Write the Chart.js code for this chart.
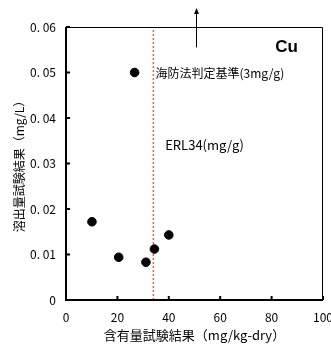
<!DOCTYPE html>
<html>
<head>
<meta charset="utf-8">
<script src="https://cdn.jsdelivr.net/npm/chart.js@4"></script>
<style>
  html, body { margin: 0; padding: 0; background: #fff; }
  #wrap { width: 331px; height: 344px; }
</style>
</head>
<body>
<div id="wrap"><canvas id="chart" width="331" height="344"></canvas></div>
<script>
// 含有量 (mg/kg-dry) と 溶出量 (mg/L) の測定値
const contentValues = [26.7, 10.1, 40.0, 20.5, 31.1, 34.4];
const leachValues = [0.050, 0.0172, 0.0143, 0.0094, 0.0083, 0.0112];

// 基準線と注記
const erlValue = 34;
const arrowX = 50.5;
const arrowFrom = 0.0555;
const arrowTo = 0.0642;

// 目盛ラベル
const xTickLabels = ['0', '20', '40', '60', '80', '100'];
const yTickLabels = ['0', '0. 01', '0. 02', '0. 03', '0. 04', '0. 05', '0. 06'];

const jpFont = '"Noto Sans CJK JP", sans-serif';

const points = contentValues.map((x, i) => ({ x, y: leachValues[i] }));

// 枠線・内向き目盛・矢印・文字の描画
const decor = {
  id: 'decor',
  afterDatasetsDraw(chart) {
    const { ctx, chartArea: a, scales: { x, y } } = chart;
    ctx.save();
    // 枠
    ctx.strokeStyle = '#000';
    ctx.lineWidth = 1;
    ctx.beginPath();
    ctx.moveTo(a.left, a.top + 0.5);
    ctx.lineTo(a.right - 0.5, a.top + 0.5);
    ctx.lineTo(a.right - 0.5, a.bottom);
    ctx.stroke();
    ctx.lineWidth = 2;
    ctx.beginPath();
    ctx.moveTo(a.left, a.top);
    ctx.lineTo(a.left, a.bottom);
    ctx.lineTo(a.right, a.bottom);
    ctx.stroke();
    // 内向き目盛
    yTickLabels.forEach((_, i) => {
      const py = y.getPixelForValue(i * 0.01);
      ctx.beginPath();
      ctx.moveTo(a.left, py);
      ctx.lineTo(a.left + 4, py);
      ctx.stroke();
    });
    xTickLabels.forEach((t) => {
      const px = x.getPixelForValue(Number(t));
      ctx.beginPath();
      ctx.moveTo(px, a.bottom);
      ctx.lineTo(px, a.bottom - 4);
      ctx.stroke();
    });
    // 矢印
    const ax = Math.round(x.getPixelForValue(arrowX)) + 0.5;
    const y1 = y.getPixelForValue(arrowFrom);
    const y2 = y.getPixelForValue(arrowTo);
    ctx.lineWidth = 1;
    ctx.beginPath();
    ctx.moveTo(ax, y1);
    ctx.lineTo(ax, y2 + 3);
    ctx.stroke();
    ctx.fillStyle = '#000';
    ctx.beginPath();
    ctx.moveTo(ax, y2);
    ctx.lineTo(ax - 2.5, y2 + 6);
    ctx.lineTo(ax + 2.5, y2 + 6);
    ctx.closePath();
    ctx.fill();
    // 注記
    ctx.fillStyle = '#000';
    ctx.textBaseline = 'middle';
    ctx.textAlign = 'left';
    ctx.font = '12px ' + jpFont;
    ctx.fillText('海防法判定基準(3mg/g)', x.getPixelForValue(34.8), y.getPixelForValue(0.0499));
    ctx.font = '13px ' + jpFont;
    ctx.fillText('ERL34(mg/g)', x.getPixelForValue(38.6), y.getPixelForValue(0.0340));
    ctx.font = 'bold 17px "Liberation Sans", Arial, sans-serif';
    ctx.textAlign = 'right';
    ctx.fillText('Cu', a.right - 25, a.top + 20);
    ctx.restore();
  }
};

new Chart(document.getElementById('chart').getContext('2d'), {
  type: 'scatter',
  data: {
    datasets: [
      {
        label: 'Cu',
        data: points,
        backgroundColor: '#000',
        borderColor: '#000',
        pointRadius: 4.3,
        order: 1
      },
      {
        label: 'ERL',
        type: 'line',
        data: [{ x: erlValue, y: 0 }, { x: erlValue, y: 0.06 }],
        borderColor: '#f0604a',
        borderWidth: 1.5,
        borderDash: [2, 2],
        pointRadius: 0,
        order: 2
      }
    ]
  },
  options: {
    responsive: false,
    animation: false,
    events: [],
    layout: { padding: { top: 27, right: 8, left: 0, bottom: 0 } },
    plugins: { legend: { display: false }, tooltip: { enabled: false } },
    scales: {
      x: {
        type: 'linear',
        min: 0,
        max: 100,
        ticks: {
          stepSize: 20,
          color: '#000',
          font: { family: jpFont, size: 12 },
          padding: 10,
          maxRotation: 0,
          callback: (v) => xTickLabels[v / 20]
        },
        grid: { display: false, drawTicks: false },
        border: { display: false },
        title: {
          display: true,
          text: '含有量試験結果（mg/kg-dry）',
          color: '#000',
          font: { family: jpFont, size: 13 },
          padding: { top: 0, bottom: 1 }
        },
        afterFit: (s) => { s.height = 44; s.paddingRight = 0; s.paddingLeft = 0; }
      },
      y: {
        type: 'linear',
        min: 0,
        max: 0.06,
        ticks: {
          stepSize: 0.01,
          color: '#000',
          font: { family: jpFont, size: 12 },
          padding: 10,
          callback: (v) => yTickLabels[Math.round(v * 100)]
        },
        grid: { display: false, drawTicks: false },
        border: { display: false },
        title: {
          display: true,
          text: '溶出量試験結果（mg/L）',
          color: '#000',
          font: { family: jpFont, size: 12 },
          padding: { top: 12, bottom: 0 }
        },
        afterFit: (s) => { s.width = 66; s.paddingTop = 0; s.paddingBottom = 0; }
      }
    }
  },
  plugins: [decor]
});
</script>
</body>
</html>
